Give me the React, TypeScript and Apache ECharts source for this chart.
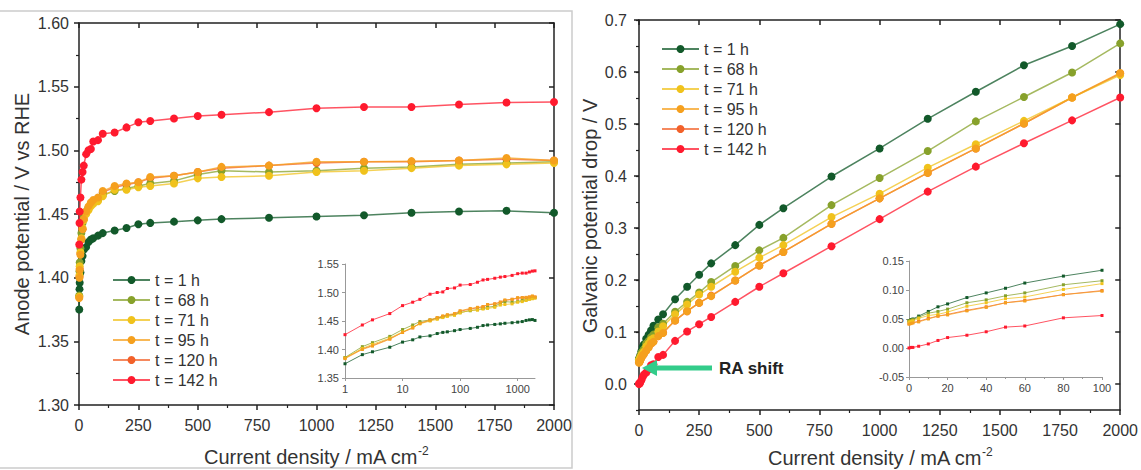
import React, { useEffect, useRef } from "react";
import * as echarts from "echarts";

// ---------- Data ----------
const seriesNames = ["t = 1 h", "t = 68 h", "t = 71 h", "t = 95 h", "t = 120 h", "t = 142 h"];
const seriesColors = ["#12592a", "#87a12b", "#f0c21c", "#f5a01e", "#f2612a", "#ff1a2e"];

// Anode potential (left panel)
const anodeX = [1, 2, 3, 6, 10, 15, 20, 30, 40, 50, 60, 80, 100, 150, 200, 250, 300, 400, 500, 600, 800, 1000, 1200, 1400, 1600, 1800, 2000];
const anode1h = [1.375, 1.391, 1.396, 1.404, 1.413, 1.417, 1.422, 1.424, 1.428, 1.430, 1.431, 1.433, 1.435, 1.437, 1.439, 1.442, 1.443, 1.444, 1.445, 1.446, 1.447, 1.448, 1.449, 1.451, 1.452, 1.4525, 1.451];
const anode68h = [1.386, 1.405, 1.412, 1.423, 1.435, 1.443, 1.449, 1.452, 1.455, 1.457, 1.460, 1.461, 1.465, 1.468, 1.470, 1.472, 1.474, 1.476, 1.481, 1.484, 1.483, 1.484, 1.486, 1.487, 1.489, 1.490, 1.491];
const anode71h = [1.385, 1.402, 1.409, 1.420, 1.431, 1.439, 1.445, 1.450, 1.453, 1.456, 1.458, 1.460, 1.464, 1.469, 1.469, 1.471, 1.472, 1.474, 1.478, 1.479, 1.480, 1.483, 1.484, 1.486, 1.488, 1.489, 1.490];
const anode95h = [1.384, 1.400, 1.406, 1.418, 1.430, 1.438, 1.446, 1.452, 1.456, 1.459, 1.461, 1.463, 1.468, 1.472, 1.474, 1.475, 1.479, 1.480, 1.483, 1.487, 1.488, 1.491, 1.491, 1.4915, 1.492, 1.494, 1.492];
const anode120h = [1.385, 1.401, 1.407, 1.419, 1.430, 1.438, 1.446, 1.451, 1.455, 1.458, 1.460, 1.462, 1.467, 1.471, 1.473, 1.475, 1.478, 1.480, 1.483, 1.486, 1.488, 1.490, 1.491, 1.491, 1.492, 1.493, 1.492];
const anode142h = [1.426, 1.443, 1.452, 1.463, 1.477, 1.483, 1.488, 1.497, 1.500, 1.501, 1.507, 1.508, 1.513, 1.514, 1.518, 1.522, 1.523, 1.525, 1.527, 1.528, 1.530, 1.533, 1.534, 1.534, 1.536, 1.5375, 1.538];

// Galvanic potential drop (right panel)
const galvX = [0, 1, 2, 5, 10, 15, 20, 30, 40, 50, 60, 80, 100, 150, 200, 250, 300, 400, 500, 600, 800, 1000, 1200, 1400, 1600, 1800, 2000];
const galv1h = [0.047, 0.049, 0.050, 0.055, 0.063, 0.071, 0.076, 0.087, 0.095, 0.103, 0.112, 0.124, 0.134, 0.163, 0.187, 0.210, 0.232, 0.267, 0.306, 0.338, 0.399, 0.453, 0.510, 0.562, 0.613, 0.650, 0.692];
const galv68h = [0.047, 0.048, 0.049, 0.053, 0.060, 0.063, 0.067, 0.078, 0.083, 0.090, 0.095, 0.109, 0.116, 0.139, 0.158, 0.176, 0.196, 0.227, 0.257, 0.281, 0.344, 0.396, 0.448, 0.505, 0.552, 0.599, 0.655];
const galv71h = [0.045, 0.046, 0.047, 0.051, 0.056, 0.058, 0.062, 0.072, 0.078, 0.085, 0.088, 0.101, 0.111, 0.134, 0.153, 0.172, 0.187, 0.216, 0.243, 0.267, 0.321, 0.366, 0.416, 0.461, 0.506, 0.551, 0.594];
const galv95h = [0.041, 0.042, 0.043, 0.045, 0.050, 0.055, 0.057, 0.064, 0.070, 0.078, 0.081, 0.092, 0.098, 0.122, 0.140, 0.156, 0.169, 0.199, 0.228, 0.254, 0.308, 0.357, 0.406, 0.453, 0.501, 0.551, 0.598];
const galv120h = [0.042, 0.043, 0.044, 0.046, 0.051, 0.055, 0.058, 0.065, 0.071, 0.078, 0.082, 0.092, 0.099, 0.122, 0.140, 0.156, 0.170, 0.199, 0.228, 0.254, 0.308, 0.357, 0.406, 0.453, 0.501, 0.551, 0.597];
const galv142h = [0.000, 0.001, 0.001, 0.003, 0.007, 0.013, 0.018, 0.022, 0.028, 0.036, 0.038, 0.052, 0.056, 0.083, 0.101, 0.115, 0.129, 0.158, 0.187, 0.213, 0.265, 0.317, 0.370, 0.418, 0.463, 0.507, 0.551];

const anodeSets = [anode1h, anode68h, anode71h, anode95h, anode120h, anode142h];
const galvSets = [galv1h, galv68h, galv71h, galv95h, galv120h, galv142h];

// Ticks
const galvMajorTicks = [0, 0.1, 0.2, 0.3, 0.4, 0.5, 0.6, 0.7];
const logTicks = [1, 10, 100, 1000];
const insetGalvXMax = 100;

const FONT = "Liberation Sans, Arial, Helvetica, sans-serif";
const AX = "#222";
const LBL = "#333";

function App() {
  const ref = useRef<HTMLDivElement>(null);

  useEffect(() => {
    if (!ref.current) return;
    const chart = echarts.init(ref.current, undefined, { renderer: "svg" });

    const plain = (v: number) => String(Math.round(v));

    const mainXBottom = (gridIndex: number) => ({
      type: "value", gridIndex, position: "bottom", min: 0, max: 2000, interval: 250,
      axisLine: { show: true, onZero: false, lineStyle: { color: AX, width: 1.5 } },
      axisTick: { show: true, inside: false, length: 5, lineStyle: { color: AX, width: 1.5 } },
      minorTick: { show: true, splitNumber: 2, length: 3, lineStyle: { color: AX, width: 1.2 } },
      axisLabel: { fontSize: 16, color: LBL, margin: 12, fontFamily: FONT, formatter: plain },
      splitLine: { show: false },
    });
    const mainXTop = (gridIndex: number) => ({
      type: "value", gridIndex, position: "top", min: 0, max: 2000, interval: 250,
      axisLine: { show: true, onZero: false, lineStyle: { color: AX, width: 1.5 } },
      axisTick: { show: true, inside: true, length: 5, lineStyle: { color: AX, width: 1.5 } },
      axisLabel: { show: false },
      splitLine: { show: false },
    });

    const mkSeries = (
      name: string, color: string, xs: number[], ys: number[], xi: number, yi: number,
      inset: boolean, z: number
    ) => ({
      type: "line", name, xAxisIndex: xi, yAxisIndex: yi,
      data: xs.map((x, i) => [x, ys[i]]),
      symbol: inset ? "rect" : "circle",
      symbolSize: inset ? 3 : 8,
      itemStyle: { color },
      lineStyle: { color, width: inset ? 1 : 1.5, opacity: 0.75 },
      emphasis: { disabled: true },
      z,
    });

    const order = [4, 0, 1, 2, 3, 5]; // 120 h drawn first (hidden underneath)
    const series: any[] = [];
    order.forEach((k) => series.push(mkSeries(seriesNames[k], seriesColors[k], anodeX, anodeSets[k], 0, 0, false, k === 4 ? 1 : 2)));
    order.forEach((k) => series.push(mkSeries(seriesNames[k], seriesColors[k], anodeX, anodeSets[k], 2, 2, true, k === 4 ? 1 : 2)));
    order.forEach((k) => series.push(mkSeries(seriesNames[k], seriesColors[k], galvX, galvSets[k], 3, 3, false, k === 4 ? 1 : 2)));
    order.forEach((k) => {
      const xs: number[] = [];
      const ys: number[] = [];
      galvX.forEach((x, i) => { if (x <= insetGalvXMax) { xs.push(x); ys.push(galvSets[k][i]); } });
      series.push(mkSeries(seriesNames[k], seriesColors[k], xs, ys, 5, 6, true, k === 4 ? 1 : 2));
    });

    const legendCommon = {
      orient: "vertical", itemWidth: 37, itemHeight: 10, itemGap: 4, selectedMode: false,
      textStyle: { fontSize: 16, color: LBL, fontFamily: FONT, lineHeight: 16 },
      data: seriesNames,
    };

    const insetLabel = { fontSize: 11, color: "#444", fontFamily: FONT };
    const insetLine = { show: true, onZero: false, lineStyle: { color: "#999", width: 1 } };
    const insetTick = { show: true, length: 3, lineStyle: { color: "#999", width: 1 } };

    const option: any = {
      animation: false,
      backgroundColor: "#ffffff",
      textStyle: { fontFamily: FONT },
      grid: [
        { left: 79, top: 23, width: 475, height: 382, containLabel: false },
        { left: 345, top: 264, width: 190, height: 114, containLabel: false },
        { left: 639, top: 20, width: 482, height: 390, containLabel: false },
        { left: 909, top: 261, width: 193, height: 116, containLabel: false },
      ],
      xAxis: [
        mainXBottom(0),
        mainXTop(0),
        {
          type: "log", gridIndex: 1, logBase: 10, min: 1, max: 2000,
          axisLine: insetLine,
          axisTick: { ...insetTick, customValues: logTicks },
          axisLabel: { ...insetLabel, margin: 5, customValues: logTicks, formatter: plain },
          splitLine: { show: false }, minorTick: { show: false },
        },
        mainXBottom(2),
        mainXTop(2),
        {
          type: "value", gridIndex: 3, min: 0, max: 100, interval: 20,
          axisLine: insetLine, axisTick: insetTick,
          minorTick: { show: true, splitNumber: 2, length: 2, lineStyle: { color: "#999" } },
          axisLabel: { ...insetLabel, margin: 5, formatter: plain },
          splitLine: { show: false },
        },
      ],
      yAxis: [
        {
          type: "value", gridIndex: 0, position: "left", min: 1.3, max: 1.6, interval: 0.05,
          axisLine: { show: true, onZero: false, lineStyle: { color: AX, width: 1.5 } },
          axisTick: { show: true, inside: false, length: 5, lineStyle: { color: AX, width: 1.5 } },
          minorTick: { show: true, splitNumber: 2, length: 3, lineStyle: { color: AX, width: 1.2 } },
          axisLabel: { fontSize: 16, color: LBL, margin: 10, fontFamily: FONT, formatter: (v: number) => v.toFixed(2) },
          splitLine: { show: false },
        },
        {
          type: "value", gridIndex: 0, position: "right", min: 1.3, max: 1.6, interval: 0.05,
          axisLine: { show: true, onZero: false, lineStyle: { color: AX, width: 1.5 } },
          axisTick: { show: true, inside: true, length: 5, lineStyle: { color: AX, width: 1.5 } },
          axisLabel: { show: false }, splitLine: { show: false },
        },
        {
          type: "value", gridIndex: 1, min: 1.35, max: 1.55, interval: 0.05,
          axisLine: insetLine, axisTick: insetTick,
          axisLabel: { ...insetLabel, margin: 6, formatter: (v: number) => v.toFixed(2) },
          splitLine: { show: false },
        },
        {
          type: "value", gridIndex: 2, position: "left", min: -0.05, max: 0.7, interval: 0.05,
          axisLine: { show: true, onZero: false, lineStyle: { color: AX, width: 1.5 } },
          axisTick: { show: true, inside: false, length: 5, customValues: galvMajorTicks, lineStyle: { color: AX, width: 1.5 } },
          axisLabel: { fontSize: 16, color: LBL, margin: 12, fontFamily: FONT, customValues: galvMajorTicks, formatter: (v: number) => v.toFixed(1) },
          splitLine: { show: false },
        },
        {
          type: "value", gridIndex: 2, position: "left", min: -0.05, max: 0.7, interval: 0.05,
          axisLine: { show: false },
          axisTick: { show: true, inside: false, length: 3, lineStyle: { color: AX, width: 1.2 } },
          axisLabel: { show: false }, splitLine: { show: false },
        },
        {
          type: "value", gridIndex: 2, position: "right", min: -0.05, max: 0.7, interval: 0.05,
          axisLine: { show: true, onZero: false, lineStyle: { color: AX, width: 1.5 } },
          axisTick: { show: true, inside: true, length: 5, customValues: galvMajorTicks, lineStyle: { color: AX, width: 1.5 } },
          axisLabel: { show: false }, splitLine: { show: false },
        },
        {
          type: "value", gridIndex: 3, min: -0.05, max: 0.15, interval: 0.05,
          axisLine: insetLine, axisTick: insetTick,
          axisLabel: { ...insetLabel, margin: 5, formatter: (v: number) => v.toFixed(2) },
          splitLine: { show: false },
        },
      ],
      legend: [
        { ...legendCommon, left: 107, top: 267 },
        { ...legendCommon, left: 656, top: 36 },
      ],
      series,
      graphic: [
        {
          type: "polyline", silent: true,
          shape: { points: [[0, 11], [572, 11], [572, 468], [0, 468]] },
          style: { stroke: "#cccccc", lineWidth: 1.5, fill: "none" },
        },
        {
          type: "text", x: 22, y: 214, rotation: Math.PI / 2,
          style: { text: "Anode potential / V vs RHE", fontSize: 20, fill: LBL, fontFamily: FONT, align: "center", verticalAlign: "middle" },
        },
        {
          type: "text", x: 590, y: 216, rotation: Math.PI / 2,
          style: { text: "Galvanic potential drop / V", fontSize: 20, fill: LBL, fontFamily: FONT, align: "center", verticalAlign: "middle" },
        },
        {
          type: "text", x: 316, y: 457,
          style: {
            text: "{a|Current density / mA cm}{s|-2}", align: "center", verticalAlign: "middle",
            rich: {
              a: { fontSize: 20, fill: LBL, fontFamily: FONT, lineHeight: 24 },
              s: { fontSize: 12, fill: LBL, fontFamily: FONT, verticalAlign: "top", lineHeight: 12 },
            },
          },
        },
        {
          type: "text", x: 880, y: 458,
          style: {
            text: "{a|Current density / mA cm}{s|-2}", align: "center", verticalAlign: "middle",
            rich: {
              a: { fontSize: 20, fill: LBL, fontFamily: FONT, lineHeight: 24 },
              s: { fontSize: 12, fill: LBL, fontFamily: FONT, verticalAlign: "top", lineHeight: 12 },
            },
          },
        },
        {
          type: "rect", shape: { x: 654, y: 365.5, width: 58, height: 5 },
          style: { fill: "#33cc8a" }, z: 100,
        },
        {
          type: "polygon", shape: { points: [[642, 368], [657, 360], [657, 376]] },
          style: { fill: "#33cc8a" }, z: 100,
        },
        {
          type: "text", x: 719, y: 368,
          style: { text: "RA shift", fontSize: 17, fontWeight: "bold", fill: "#222", fontFamily: FONT, align: "left", verticalAlign: "middle" },
          z: 100,
        },
      ],
    };

    chart.setOption(option);
    return () => chart.dispose();
  }, []);

  return (
    <div
      ref={ref}
      style={{ position: "fixed", left: 0, top: 0, width: 1141, height: 470, background: "#fff" }}
    />
  );
}

export default App;
